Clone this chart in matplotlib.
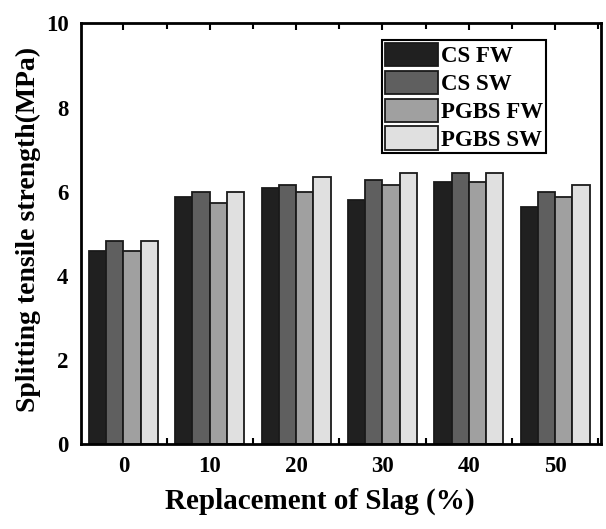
import matplotlib
matplotlib.use("Agg")
import matplotlib.pyplot as plt
import numpy as np
from matplotlib.ticker import MultipleLocator

categories = ["0", "10", "20", "30", "40", "50"]
series_names = ["CS FW", "CS SW", "PGBS FW", "PGBS SW"]
cs_fw = [4.60, 5.88, 6.08, 5.80, 6.24, 5.64]
cs_sw = [4.83, 5.99, 6.16, 6.28, 6.44, 6.00]
pgbs_fw = [4.59, 5.72, 5.99, 6.16, 6.24, 5.88]
pgbs_sw = [4.83, 5.99, 6.36, 6.44, 6.44, 6.16]
y_ticks = [0, 2, 4, 6, 8, 10]

colors = ["#202020", "#5f5f5f", "#a0a0a0", "#e0e0e0"]

plt.rcParams['font.family'] = ['Liberation Serif', 'DejaVu Serif']
plt.rcParams['font.weight'] = 'bold'

fig = plt.figure(figsize=(6.06, 5.29), dpi=100)
ax = fig.add_axes([0.1337, 0.1607, 0.858, 0.795])

x = np.arange(len(categories))
w = 0.2
data = [cs_fw, cs_sw, pgbs_fw, pgbs_sw]
for i, (vals, name, c) in enumerate(zip(data, series_names, colors)):
    ax.bar(x + (i - 1.5) * w, vals, width=w, color=c, edgecolor="#1a1a1a",
           linewidth=1.3, label=name, zorder=2)

ax.set_xlim(-0.49, 5.53)
ax.set_ylim(0, 10)
ax.set_xticks(x)
ax.set_xticklabels(categories)
ax.xaxis.set_minor_locator(MultipleLocator(0.5))
ax.set_yticks(y_ticks)
ax.tick_params(axis='x', which='major', direction='in', length=5, width=1.5,
               top=True, labelsize=16.5, pad=9)
ax.tick_params(axis='x', which='minor', direction='in', length=4, width=1.5, top=True)
ax.tick_params(axis='y', which='both', length=0, labelsize=16.5, pad=9)
for lab in ax.get_xticklabels() + ax.get_yticklabels():
    lab.set_fontweight('bold')
for s in ax.spines.values():
    s.set_linewidth(2)
    s.set_zorder(3)

ax.set_xlabel("Replacement of Slag (%)", fontsize=21, fontweight='bold')
ax.xaxis.set_label_coords(0.46, -0.105)
ax.set_ylabel("Splitting tensile strength(MPa)", fontsize=20, fontweight='bold')
ax.yaxis.set_label_coords(-0.077, 0.51)

leg = ax.legend(loc='upper right', bbox_to_anchor=(0.894, 0.96), frameon=True,
                fancybox=False, edgecolor='black', framealpha=1,
                prop={'family': 'Liberation Serif', 'weight': 'bold', 'size': 16.5},
                handlelength=2.3, handleheight=1.18, labelspacing=0.15,
                handletextpad=0.15, borderpad=0.12, borderaxespad=0)
leg.get_frame().set_linewidth(1.5)

fig.savefig("out.png", dpi=100)
